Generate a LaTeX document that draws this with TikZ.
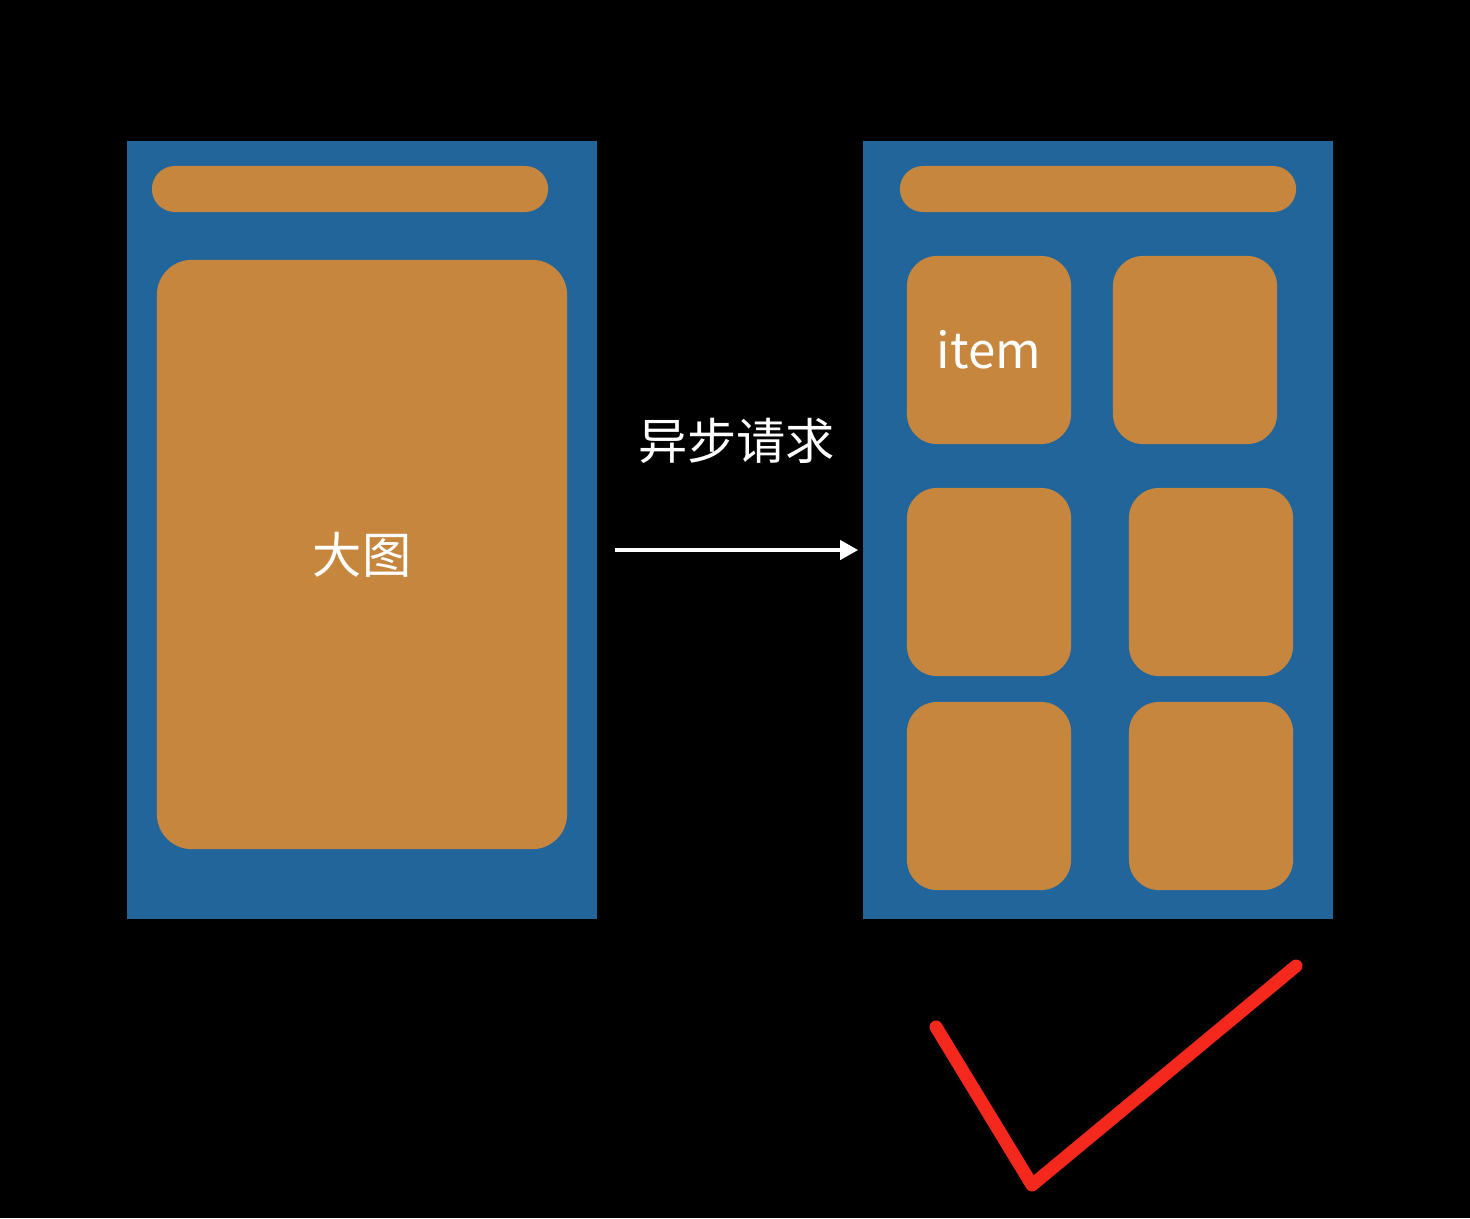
\documentclass[tikz,border=0pt]{standalone}
\usepackage{fontspec}
\newfontfamily\cjk{Noto Sans CJK SC}
\usetikzlibrary{arrows.meta}
\definecolor{panelblue}{RGB}{33,101,155}
\definecolor{cardorange}{RGB}{198,134,62}
\definecolor{tickred}{RGB}{245,40,30}
\tikzset{
  panel/.style={fill=panelblue, minimum width=4.7cm, minimum height=7.78cm, inner sep=0},
  topbar/.style={fill=cardorange, rounded corners=0.23cm, minimum width=3.96cm, minimum height=0.46cm, inner sep=0},
  card/.style={fill=cardorange, rounded corners=0.3cm, minimum width=1.64cm, minimum height=1.88cm, inner sep=0,
    text=white, font=\cjk\fontsize{14}{16}\selectfont},
}
\begin{document}
\begin{tikzpicture}[x=0.01cm,y=-0.01cm]
  \fill[black] (0,0) rectangle (1470,1218);
  % left: one big picture
  \node[panel] (left) at (362,530) {};
  \node[topbar] (lbar) at (350,189) {};
  \node[card, minimum width=4.1cm, minimum height=5.89cm, rounded corners=0.35cm] (big) at (362,554.5) {大图};
  % right: grid of items
  \node[panel] (right) at (1098,530) {};
  \node[topbar] (rbar) at (1098,189) {};
  \node[card] (item1) at (989,350) {item};
  \node[card] (item2) at (1195,350) {};
  \node[card] (item3) at (989,582) {};
  \node[card] (item4) at (1211,582) {};
  \node[card] (item5) at (989,796) {};
  \node[card] (item6) at (1211,796) {};
  \draw[white, line width=0.04cm, -{Triangle[length=0.18cm,width=0.19cm]}]
    ([xshift=0.17cm,yshift=-0.2cm]left.east) -- ([xshift=-0.04cm,yshift=-0.2cm]right.west)
    node[midway, above=0.73cm, text=white, font=\cjk\fontsize{14}{16}\selectfont] (req) {异步请求};
  % the tick
  \draw[tickred, line width=0.13cm, line cap=round, line join=round] (936,1027) -- (1032,1185) -- (1296,966);
\end{tikzpicture}
\end{document}
